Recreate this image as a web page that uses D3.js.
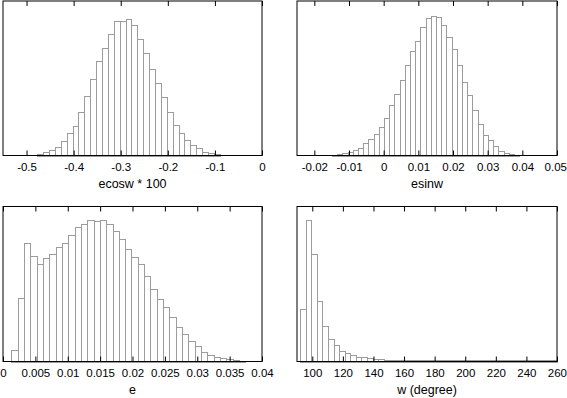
<!DOCTYPE html>
<html><head><meta charset="utf-8">
<script src="https://cdn.jsdelivr.net/npm/d3@7"></script>
<style>
body{margin:0;background:#fff}
svg{display:block}
text{font-family:"Liberation Sans",Arial,Helvetica,sans-serif;font-size:11.5px;fill:#000}
</style>
</head><body><svg id="c" width="567" height="398"></svg>
<script>
// ---- data (bin start, bin width, counts) ----
const ecoswStart = -0.4772, ecoswBin = 0.0125;
const ecoswCounts = [4, 10, 17, 26, 45, 67, 88, 130, 178, 229, 285, 324, 365, 405, 405, 409, 392, 351, 309, 259, 217, 175, 130, 92, 67, 47, 32, 22, 12, 7, 4];
const ecoswDomain = [-0.55, 0];
const ecoswTicks = [-0.5, -0.4, -0.3, -0.2, -0.1, 0];
const ecoswTickLabels = ["-0.5", "-0.4", "-0.3", "-0.2", "-0.1", "0"];

const esinwStart = -0.0149, esinwBin = 0.0015;
const esinwCounts = [3, 5, 7, 12, 17, 24, 37, 49, 64, 87, 112, 151, 184, 227, 271, 315, 343, 385, 412, 419, 415, 392, 357, 319, 272, 221, 181, 137, 94, 62, 47, 29, 14, 9, 5, 2];
const esinwDomain = [-0.025, 0.05];
const esinwTicks = [-0.02, -0.01, 0, 0.01, 0.02, 0.03, 0.04, 0.05];
const esinwTickLabels = ["-0.02", "-0.01", "0", "0.01", "0.02", "0.03", "0.04", "0.05"];

const eStart = 0.00128, eBin = 0.000977;
const eCounts = [34, 190, 355, 316, 292, 310, 322, 343, 355, 379, 402, 412, 424, 422, 424, 412, 392, 367, 337, 312, 292, 257, 217, 187, 162, 132, 102, 82, 62, 45, 28, 18, 13, 9, 6, 3, 1];
const eDomain = [0, 0.04];
const eTicks = [0, 0.005, 0.01, 0.015, 0.02, 0.025, 0.03, 0.035, 0.04];
const eTickLabels = ["0", "0.005", "0.01", "0.015", "0.02", "0.025", "0.03", "0.035", "0.04"];

const wStart = 92.0, wBin = 3.65;
const wCounts = [158, 425, 322, 181, 107, 68, 48, 32, 25, 18, 14, 14, 10, 7, 7, 5, 5, 4, 4, 3, 3, 3, 3, 3, 3, 3, 3, 3, 3, 3, 3, 3, 3, 3, 3, 3, 3, 3, 3, 3, 3, 3, 3, 3, 3, 3];
const wDomain = [90, 260];
const wTicks = [100, 120, 140, 160, 180, 200, 220, 240, 260];
const wTickLabels = ["100", "120", "140", "160", "180", "200", "220", "240", "260"];

const titles = ["ecosw * 100", "esinw", "e", "w (degree)"];
const yMax = 464;

// ---- layout ----
const W = 567;
const boxes = [
  {left: 3, right: 262, top: 1, bottom: 155.5},
  {left: 297, right: 557, top: 1, bottom: 155.5},
  {left: 3, right: 262, top: 206.5, bottom: 361.5},
  {left: 297, right: 557, top: 206.5, bottom: 361.5}
];
const panels = [
  {start: ecoswStart, bin: ecoswBin, counts: ecoswCounts, domain: ecoswDomain, ticks: ecoswTicks, labels: ecoswTickLabels},
  {start: esinwStart, bin: esinwBin, counts: esinwCounts, domain: esinwDomain, ticks: esinwTicks, labels: esinwTickLabels},
  {start: eStart, bin: eBin, counts: eCounts, domain: eDomain, ticks: eTicks, labels: eTickLabels},
  {start: wStart, bin: wBin, counts: wCounts, domain: wDomain, ticks: wTicks, labels: wTickLabels}
];

const svg = d3.select("#c");

panels.forEach((p, k) => {
  const b = boxes[k];
  const x = d3.scaleLinear().domain(p.domain).range([b.left, b.right]);
  const y = d3.scaleLinear().domain([0, yMax]).range([b.bottom, b.top]);
  const g = svg.append("g");

  const bins = p.counts.map((c, i) => ({x0: p.start + i * p.bin, x1: p.start + (i + 1) * p.bin, c}));
  g.selectAll("rect.bar").data(bins).join("rect")
    .attr("class", "bar")
    .attr("x", d => Math.round(x(d.x0)) + 0.5)
    .attr("width", d => Math.round(x(d.x1)) - Math.round(x(d.x0)))
    .attr("y", d => Math.round(y(d.c)) + 0.5)
    .attr("height", d => Math.max(0, Math.round(y(0)) - Math.round(y(d.c))))
    .attr("fill", "#fff")
    .attr("stroke", "#9c9c9c")
    .attr("stroke-width", 1);

  // bottom axis (inward ticks, labels)
  const ax = g.append("g").attr("transform", `translate(0,${b.bottom})`)
    .call(d3.axisBottom(x).tickValues(p.ticks).tickFormat((d, i) => p.labels[i]).tickSize(-5).tickSizeOuter(0));
  ax.select(".domain").remove();
  ax.selectAll("line").attr("stroke", "#000");
  ax.selectAll("text").attr("y", 15).attr("dy", 0)
    .style("font-family", '"Liberation Sans",Arial,sans-serif').style("font-size", "11.5px").attr("fill", "#000")
    .each(function(d) {
      const len = this.getComputedTextLength();
      const over = x(d) + len / 2 - (W - 0.5);
      if (over > 0) d3.select(this).attr("x", -over);
    });

  // top mirrored ticks
  const at = g.append("g").attr("transform", `translate(0,${b.top})`)
    .call(d3.axisTop(x).tickValues(p.ticks).tickFormat("").tickSize(-5).tickSizeOuter(0));
  at.select(".domain").remove();
  at.selectAll("line").attr("stroke", "#000");

  // frame
  g.append("rect")
    .attr("x", b.left).attr("y", b.top)
    .attr("width", b.right - b.left).attr("height", b.bottom - b.top)
    .attr("fill", "none").attr("stroke", "#000").attr("stroke-width", 1);

  // axis title
  g.append("text")
    .attr("x", (b.left + b.right) / 2).attr("y", b.bottom + 32)
    .attr("text-anchor", "middle")
    .style("font-size", "12.5px")
    .text(titles[k]);
});
</script>
</body></html>
